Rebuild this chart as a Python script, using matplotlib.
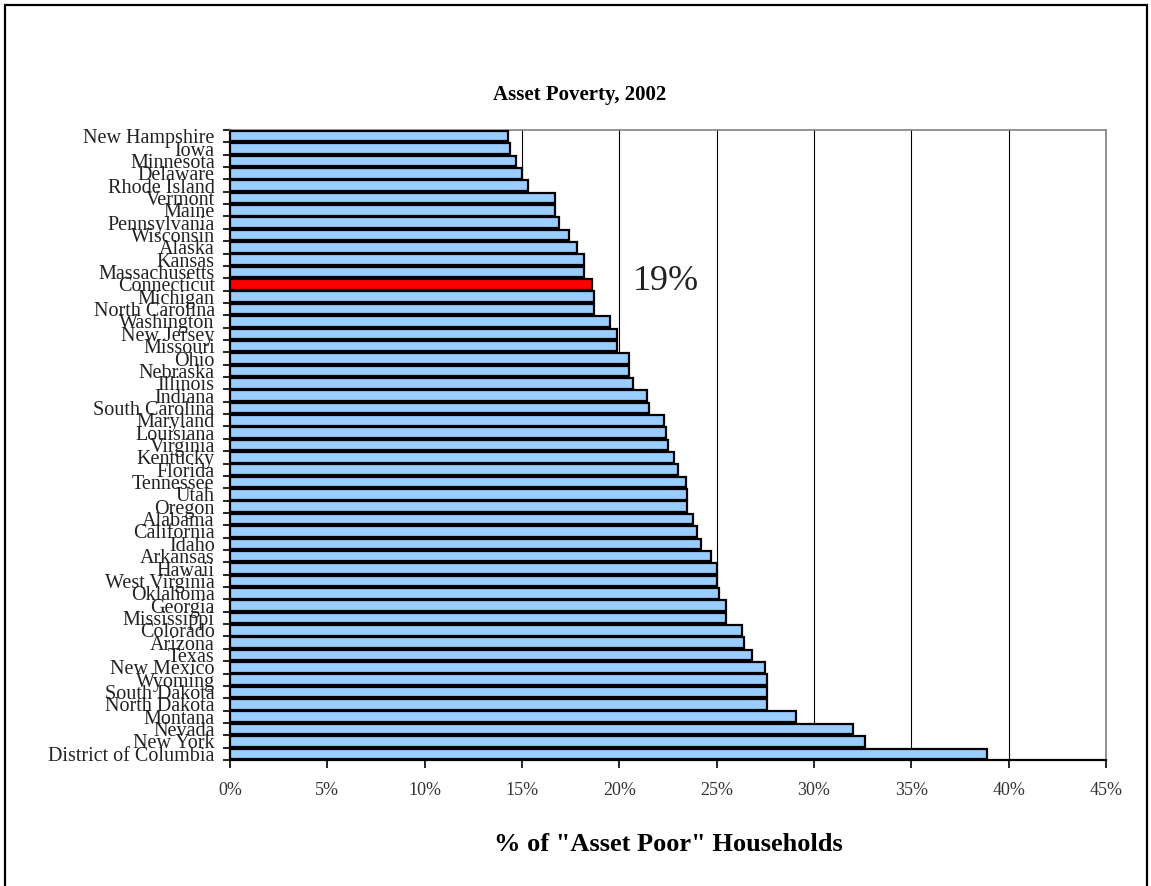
import numpy as np
import matplotlib.pyplot as plt
from matplotlib.patches import Rectangle
from matplotlib.ticker import FuncFormatter

# 各州"资产贫困"家庭比例（%），从上到下
states = ["New Hampshire", "Iowa", "Minnesota", "Delaware", "Rhode Island",
          "Vermont", "Maine", "Pennsylvania", "Wisconsin", "Alaska", "Kansas",
          "Massachusetts", "Connecticut", "Michigan", "North Carolina",
          "Washington", "New Jersey", "Missouri", "Ohio", "Nebraska", "Illinois",
          "Indiana", "South Carolina", "Maryland", "Louisiana", "Virginia",
          "Kentucky", "Florida", "Tennessee", "Utah", "Oregon", "Alabama",
          "California", "Idaho", "Arkansas", "Hawaii", "West Virginia",
          "Oklahoma", "Georgia", "Mississippi", "Colorado", "Arizona", "Texas",
          "New Mexico", "Wyoming", "South Dakota", "North Dakota", "Montana",
          "Nevada", "New York", "District of Columbia"]
values = [14.3, 14.4, 14.7, 15.0, 15.3,
          16.7, 16.7, 16.9, 17.4, 17.8, 18.2,
          18.2, 18.6, 18.7, 18.7,
          19.5, 19.9, 19.9, 20.5, 20.5, 20.7,
          21.4, 21.5, 22.3, 22.4, 22.5,
          22.8, 23.0, 23.4, 23.5, 23.5, 23.8,
          24.0, 24.2, 24.7, 25.0, 25.0,
          25.1, 25.5, 25.5, 26.3, 26.4, 26.8,
          27.5, 27.6, 27.6, 27.6, 29.1,
          32.0, 32.6, 38.9]
highlight = "Connecticut"
xticks = [0, 5, 10, 15, 20, 25, 30, 35, 40, 45]

plt.rcParams['font.family'] = ['Liberation Serif', 'DejaVu Serif']

fig = plt.figure(figsize=(11.51, 8.86), dpi=100)
ax = fig.add_axes([230 / 1151, 1 - 760 / 886, 876 / 1151, 630 / 886])

n = len(states)
y = np.arange(n)
colors = ['#ff0000' if s == highlight else '#99ccff' for s in states]
ax.barh(y, values, height=0.86, color=colors, edgecolor='black',
        linewidth=1.6, zorder=3)

ax.set_xlim(0, 45)
ax.set_ylim(n - 0.5, -0.5)
ax.set_xticks(xticks)
ax.xaxis.set_major_formatter(FuncFormatter(lambda v, p: f"{v:.0f}%"))
ax.grid(axis='x', color='black', linewidth=0.8, zorder=0)

# 类别标签放在中间，刻度线画在分隔处
ax.set_yticks(y)
ax.set_yticklabels(states, fontsize=14.5)
ax.tick_params(axis='y', length=0, pad=11)
ax.set_yticks(np.arange(n + 1) - 0.5, minor=True)
ax.tick_params(axis='y', which='minor', length=5, width=1.2, direction='out')
ax.tick_params(axis='x', length=6, width=1.2, direction='out', pad=10,
               labelsize=13, colors='black')
for lab in ax.get_xticklabels():
    lab.set_color('#333333')
for lab in ax.get_yticklabels():
    lab.set_color('#222222')

for side in ['top', 'right']:
    ax.spines[side].set_color('#808080')
    ax.spines[side].set_linewidth(1.2)
for side in ['left', 'bottom']:
    ax.spines[side].set_color('black')
    ax.spines[side].set_linewidth(1.6)

idx = states.index(highlight)
ax.text(22.37, idx - 0.2, f"{int(values[idx] + 0.5)}%", fontsize=26,
        va='center', ha='center', color='#222222', zorder=4)

ax.set_xlabel('% of "Asset Poor" Households', fontsize=19, fontweight='bold',
              labelpad=24)
fig.text(580 / 1151, 1 - 95 / 886, "Asset Poverty, 2002", fontsize=15,
         fontweight='bold', ha='center', va='center')

# 外框
fig.patches.append(Rectangle((5 / 1151, -0.02), 1142 / 1151, 1.02 - 5 / 886,
                             transform=fig.transFigure, fill=False,
                             edgecolor='black', linewidth=1.6))

fig.savefig("out.png", dpi=100)
